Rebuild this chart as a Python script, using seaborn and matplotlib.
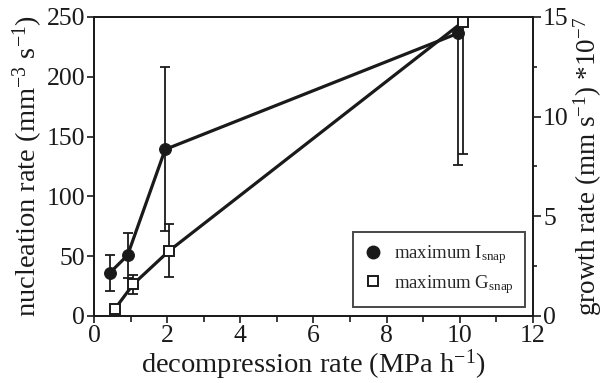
import matplotlib
matplotlib.use("Agg")
import matplotlib.pyplot as plt
import seaborn as sns
import pandas as pd
import numpy as np
from matplotlib.lines import Line2D

# Data
rate_I = [0.43, 0.91, 1.94, 9.95]
nucleation = [36.2, 50.7, 139.2, 236.2]
nuc_err_low = [15.0, 19.0, 68.0, 110.0]
nuc_err_high = [14.5, 19.0, 69.0, 110.0]

rate_G = [0.57, 1.07, 2.05, 10.09]
growth = [0.37, 1.6, 3.27, 14.75]
gr_err_low = [0.0, 0.5, 1.33, 6.65]
gr_err_high = [0.0, 0.45, 1.33, 6.65]

x_ticks = [0, 2, 4, 6, 8, 10, 12]
left_ticks = [0, 50, 100, 150, 200, 250]
right_ticks = [0, 5, 10, 15]

sns.set_theme(style="ticks")
plt.rcParams["font.family"] = ["Liberation Serif", "DejaVu Serif"]
plt.rcParams["mathtext.fontset"] = "custom"
plt.rcParams["mathtext.rm"] = "Liberation Serif"
plt.rcParams["mathtext.it"] = "Liberation Serif:italic"
plt.rcParams["mathtext.bf"] = "Liberation Serif:bold"

fig = plt.figure(figsize=(6.06, 3.83), dpi=100)
ax = fig.add_axes([0.1556, 0.175, 0.879 - 0.1556, 0.956 - 0.175])
ax2 = ax.twinx()

dfI = pd.DataFrame({"x": rate_I, "y": nucleation})
dfG = pd.DataFrame({"x": rate_G, "y": growth})

col = "#1a1a1a"
lw_line = 2.3

ax.errorbar(rate_I, nucleation, yerr=[nuc_err_low, nuc_err_high], fmt="none",
            ecolor=col, elinewidth=1.3, capsize=3.5, capthick=1.3, zorder=2)
sns.lineplot(data=dfI, x="x", y="y", ax=ax, color=col, lw=lw_line, marker="o",
             markersize=8.5, markerfacecolor=col, markeredgecolor=col, zorder=3,
             legend=False)

ax2.errorbar(rate_G, growth, yerr=[gr_err_low, gr_err_high], fmt="none",
             ecolor=col, elinewidth=1.3, capsize=3.5, capthick=1.3, zorder=2)
sns.lineplot(data=dfG, x="x", y="y", ax=ax2, color=col, lw=lw_line, marker="s",
             markersize=7.5, markerfacecolor="white", markeredgecolor=col,
             markeredgewidth=1.4, zorder=3, legend=False)

ax.set_xlim(0, 12)
ax.set_ylim(0, 250)
ax2.set_ylim(0, 15)
ax.set_xticks(x_ticks)
ax.set_xticks(np.arange(1, 12, 2), minor=True)
ax.set_yticks(left_ticks)
ax2.set_yticks(right_ticks)
ax2.set_yticks([2.5, 7.5, 12.5], minor=True)

fs_tick = 18.5
ax.tick_params(axis="both", which="major", labelsize=fs_tick, direction="out",
               length=5, width=1.2, colors=col, pad=1.5)
ax.tick_params(axis="x", which="minor", direction="out", length=4, width=1.2, colors=col)
ax2.tick_params(axis="y", which="major", labelsize=fs_tick, direction="out",
                length=6, width=1.2, colors=col, pad=1.5)
ax2.tick_params(axis="y", which="minor", direction="out", length=3, width=1.2, colors=col)

for a in (ax, ax2):
    for s in a.spines.values():
        s.set_linewidth(1.3)
        s.set_color(col)
        s.set_visible(True)

fs_lab = 20.5
ax.set_xlabel(r"decompression rate (MPa h$^{\mathrm{-1}}$)", fontsize=fs_lab, color=col, labelpad=0)
ax.set_ylabel(r"nucleation rate (mm$^{\mathrm{-3}}$ s$^{\mathrm{-1}}$)", fontsize=fs_lab, color=col, labelpad=1)
ax2.set_ylabel(r"growth rate (mm s$^{\mathrm{-1}}$) *10$^{\mathrm{-7}}$", fontsize=19.5, color=col,
               rotation=90, labelpad=2)

handles = [
    Line2D([], [], ls="none", marker="o", markersize=9, color=col),
    Line2D([], [], ls="none", marker="s", markersize=7, markerfacecolor="white",
           markeredgecolor=col, markeredgewidth=1.4),
]
labels = [r"maximum I$_{\mathrm{snap}}$", r"maximum G$_{\mathrm{snap}}$"]
leg = ax2.legend(handles, labels, loc="lower right", bbox_to_anchor=(0.983, 0.03),
                 frameon=True, fancybox=False, edgecolor=col, fontsize=13.5,
                 handletextpad=0.6, borderpad=0.6, labelspacing=0.35,
                 handlelength=1.0, borderaxespad=0)
leg.get_frame().set_linewidth(1.4)

fig.savefig("out.png", dpi=100)
